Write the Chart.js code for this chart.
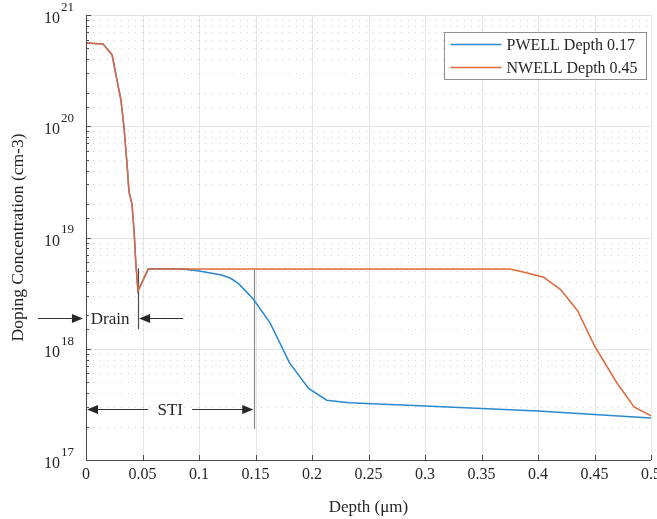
<!DOCTYPE html>
<html>
<head>
<meta charset="utf-8">
<script src="https://cdn.jsdelivr.net/npm/chart.js@4.4.1/dist/chart.umd.min.js"></script>
<style>
  html, body { margin: 0; padding: 0; background: #ffffff; }
  canvas { display: block; }
</style>
</head>
<body>
<canvas id="profile" width="657" height="519"></canvas>
<script>
// Doping profiles versus depth (µm), concentration in cm^-3
const pwellDepth = [0, 0.015, 0.023, 0.031, 0.0336, 0.0363, 0.038, 0.0407, 0.0425, 0.044, 0.046, 0.055,
                    0.07, 0.085, 0.1, 0.12, 0.128, 0.135, 0.148, 0.163, 0.18, 0.197, 0.213, 0.233, 0.3, 0.4, 0.5];
const pwellConc  = [5.6e20, 5.5e20, 4.4e20, 1.7e20, 9.8e19, 4.6e19, 2.6e19, 2.0e19, 1.16e19, 6.1e18, 3.3e18, 5.2e18,
                    5.2e18, 5.2e18, 5.0e18, 4.6e18, 4.3e18, 3.85e18, 2.8e18, 1.7e18, 7.5e17, 4.4e17, 3.45e17, 3.27e17, 3.06e17, 2.76e17, 2.39e17];

const nwellDepth = [0, 0.015, 0.023, 0.031, 0.0336, 0.0363, 0.038, 0.0407, 0.0425, 0.044, 0.046, 0.055,
                    0.1, 0.2, 0.3, 0.375, 0.387, 0.405, 0.42, 0.435, 0.45, 0.47, 0.485, 0.5];
const nwellConc  = [5.6e20, 5.5e20, 4.4e20, 1.7e20, 9.8e19, 4.6e19, 2.6e19, 2.0e19, 1.16e19, 6.1e18, 3.3e18, 5.2e18,
                    5.2e18, 5.2e18, 5.2e18, 5.2e18, 4.9e18, 4.4e18, 3.4e18, 2.2e18, 1.06e18, 4.9e17, 3.0e17, 2.5e17];

const seriesNames = ['PWELL Depth 0.17', 'NWELL Depth 0.45'];
const xTickLabels = ['0', '0.05', '0.1', '0.15', '0.2', '0.25', '0.3', '0.35', '0.4', '0.45', '0.5'];
const yDecades = [17, 18, 19, 20, 21];

// Dimension markers, in data units (depth, concentration)
const drainMarker = { depth: 0.046, top: 5.3e18, bottom: 1.5e18, level: 1.9e18,
                      leftFrom: -0.0425, leftTip: -0.0027, rightTip: 0.047, rightFrom: 0.086, textAt: 0.0214, text: 'Drain' };
const stiMarker   = { depth: 0.149, top: 5.2e18, bottom: 1.9e17, level: 2.9e17,
                      leftTip: 0, leftTo: 0.055, rightFrom: 0.094, rightTip: 0.148, textAt: 0.0745, text: 'STI' };

const SERIF = '"Liberation Serif", "Times New Roman", serif';
const AXIS_COLOR = '#4a4a4a';
const TEXT_COLOR = '#262626';

const toPoints = (xs, ys) => xs.map((d, i) => ({ x: d, y: ys[i] }));
const isDecade = v => Math.abs(Math.log10(v) - Math.round(Math.log10(v))) < 1e-6;

function arrowHead(ctx, tipX, y, dir) {
  // dir = +1 points right, -1 points left
  const len = 11, half = 4.5;
  ctx.beginPath();
  ctx.moveTo(tipX, y);
  ctx.lineTo(tipX - dir * len, y - half);
  ctx.lineTo(tipX - dir * len, y + half);
  ctx.closePath();
  ctx.fill();
}

const axesPlugin = {
  id: 'axesPlugin',
  beforeDatasetsDraw(chart) {
    const { ctx, chartArea: a, scales: { x, y } } = chart;
    ctx.save();
    // horizontal grid: solid at decades, dotted at minor ticks
    y.ticks.forEach(t => {
      const py = Math.round(y.getPixelForValue(t.value)) + 0.5;
      ctx.beginPath();
      if (isDecade(t.value)) {
        ctx.setLineDash([]);
        ctx.strokeStyle = '#e3e3e3';
      } else {
        ctx.setLineDash([1, 6]);
        ctx.strokeStyle = '#d2d2d2';
      }
      ctx.lineWidth = 1;
      ctx.moveTo(a.left, py);
      ctx.lineTo(a.right, py);
      ctx.stroke();
    });
    ctx.setLineDash([]);
    // vertical grid at each depth tick
    x.ticks.forEach(t => {
      const px = Math.round(x.getPixelForValue(t.value)) + 0.5;
      ctx.beginPath();
      ctx.strokeStyle = '#e6e6e6';
      ctx.moveTo(px, a.top);
      ctx.lineTo(px, a.bottom);
      ctx.stroke();
    });
    // marker verticals (drawn under the profiles)
    [[drainMarker, '#4d4d4d'], [stiMarker, '#8a8a8a']].forEach(([m, col]) => {
      const px = Math.round(x.getPixelForValue(m.depth)) + 0.5;
      ctx.beginPath();
      ctx.strokeStyle = col;
      ctx.lineWidth = 1.2;
      ctx.moveTo(px, y.getPixelForValue(m.top));
      ctx.lineTo(px, y.getPixelForValue(m.bottom));
      ctx.stroke();
    });
    ctx.restore();
  },
  afterDatasetsDraw(chart) {
    const { ctx, chartArea: a, scales: { x, y } } = chart;
    ctx.save();
    // axis lines
    ctx.strokeStyle = AXIS_COLOR;
    ctx.lineWidth = 1;
    ctx.beginPath();
    ctx.moveTo(a.left + 0.5, a.top);
    ctx.lineTo(a.left + 0.5, a.bottom + 0.5);
    ctx.lineTo(a.right, a.bottom + 0.5);
    ctx.stroke();
    // inward tick marks
    ctx.beginPath();
    y.ticks.forEach(t => {
      const py = Math.round(y.getPixelForValue(t.value)) + 0.5;
      const len = isDecade(t.value) ? 5 : 3;
      ctx.moveTo(a.left, py);
      ctx.lineTo(a.left + len, py);
    });
    x.ticks.forEach(t => {
      const px = Math.round(x.getPixelForValue(t.value)) + 0.5;
      ctx.moveTo(px, a.bottom);
      ctx.lineTo(px, a.bottom - 5);
    });
    ctx.stroke();

    // y tick labels as powers of ten
    ctx.fillStyle = TEXT_COLOR;
    ctx.textBaseline = 'middle';
    yDecades.forEach(e => {
      const py = y.getPixelForValue(Math.pow(10, e));
      ctx.font = '16px ' + SERIF;
      ctx.textAlign = 'right';
      ctx.fillText('10', a.left - 26, py + 4);
      ctx.font = '13px ' + SERIF;
      ctx.textAlign = 'left';
      ctx.fillText(String(e), a.left - 25, py - 7.5);
    });

    // dimension markers: arrows and labels
    ctx.strokeStyle = '#333333';
    ctx.fillStyle = '#262626';
    ctx.lineWidth = 1;
    const dy = Math.round(y.getPixelForValue(drainMarker.level)) + 0.5;
    ctx.beginPath();
    ctx.moveTo(x.getPixelForValue(drainMarker.leftFrom), dy);
    ctx.lineTo(x.getPixelForValue(drainMarker.leftTip) - 8, dy);
    ctx.moveTo(x.getPixelForValue(drainMarker.rightFrom), dy);
    ctx.lineTo(x.getPixelForValue(drainMarker.rightTip) + 8, dy);
    ctx.stroke();
    arrowHead(ctx, x.getPixelForValue(drainMarker.leftTip), dy, 1);
    arrowHead(ctx, x.getPixelForValue(drainMarker.rightTip), dy, -1);

    const sy = Math.round(y.getPixelForValue(stiMarker.level)) + 0.5;
    ctx.beginPath();
    ctx.moveTo(x.getPixelForValue(stiMarker.leftTip) + 8, sy);
    ctx.lineTo(x.getPixelForValue(stiMarker.leftTo), sy);
    ctx.moveTo(x.getPixelForValue(stiMarker.rightFrom), sy);
    ctx.lineTo(x.getPixelForValue(stiMarker.rightTip) - 8, sy);
    ctx.stroke();
    arrowHead(ctx, x.getPixelForValue(stiMarker.leftTip) + 1, sy, -1);
    arrowHead(ctx, x.getPixelForValue(stiMarker.rightTip), sy, 1);

    ctx.font = '17px ' + SERIF;
    ctx.textAlign = 'center';
    ctx.textBaseline = 'middle';
    ctx.fillStyle = TEXT_COLOR;
    ctx.fillText(drainMarker.text, x.getPixelForValue(drainMarker.textAt), dy + 1);
    ctx.fillText(stiMarker.text, x.getPixelForValue(stiMarker.textAt), sy + 1);

    // legend box
    const lx = 444.5, ly = 32.5, lw = 202, lh = 47;
    ctx.fillStyle = '#ffffff';
    ctx.fillRect(lx, ly, lw, lh);
    ctx.strokeStyle = '#8f8f8f';
    ctx.lineWidth = 1;
    ctx.strokeRect(lx, ly, lw, lh);
    ctx.font = '16px ' + SERIF;
    ctx.textAlign = 'left';
    ctx.textBaseline = 'middle';
    chart.data.datasets.forEach((ds, i) => {
      const ry = ly + 12 + i * 23;
      ctx.strokeStyle = ds.borderColor;
      ctx.lineWidth = 1.5;
      ctx.beginPath();
      ctx.moveTo(lx + 6, ry);
      ctx.lineTo(lx + 57, ry);
      ctx.stroke();
      ctx.fillStyle = TEXT_COLOR;
      ctx.fillText(ds.label, lx + 62, ry + 1);
    });
    ctx.restore();
  }
};

new Chart(document.getElementById('profile'), {
  type: 'line',
  data: {
    datasets: [
      { label: seriesNames[0], data: toPoints(pwellDepth, pwellConc), borderColor: '#2a88cf',
        borderWidth: 1.5, pointRadius: 0, tension: 0, fill: false, order: 1 },
      { label: seriesNames[1], data: toPoints(nwellDepth, nwellConc), borderColor: '#e0683a',
        borderWidth: 1.5, pointRadius: 0, tension: 0, fill: false, order: 0 }
    ]
  },
  options: {
    responsive: false,
    animation: false,
    events: [],
    layout: { padding: { top: 15, right: 6, left: 0, bottom: 0 } },
    plugins: { legend: { display: false }, tooltip: { enabled: false } },
    scales: {
      x: {
        type: 'linear', min: 0, max: 0.5,
        ticks: {
          stepSize: 0.05, padding: 5, maxRotation: 0, autoSkip: false,
          color: TEXT_COLOR, font: { family: SERIF, size: 16 },
          callback: v => xTickLabels[Math.round(v / 0.05)]
        },
        grid: { display: false, drawTicks: false },
        border: { display: false },
        title: { display: true, text: 'Depth (μm)', color: TEXT_COLOR,
                 font: { family: SERIF, size: 17 }, padding: { top: 0, bottom: 1 } },
        afterFit: s => { s.height = 59; s.paddingLeft = 0; s.paddingRight = 0; }
      },
      y: {
        type: 'logarithmic', min: 1e17, max: 1e21,
        ticks: { display: false },
        grid: { display: false, drawTicks: false },
        border: { display: false },
        title: { display: true, text: 'Doping Concentration (cm-3)', color: TEXT_COLOR,
                 font: { family: SERIF, size: 17.5 }, padding: { top: 8, bottom: 0 } },
        afterFit: s => { s.width = 86; s.paddingTop = 0; s.paddingBottom = 0; }
      }
    }
  },
  plugins: [axesPlugin]
});
</script>
</body>
</html>
